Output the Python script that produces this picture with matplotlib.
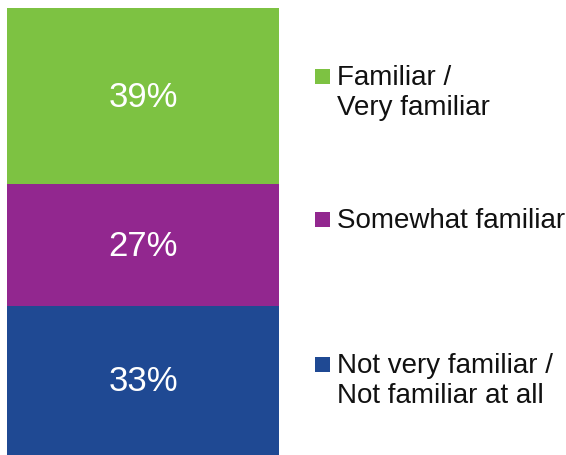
import matplotlib
matplotlib.use("Agg")
from matplotlib import pyplot as plt
from matplotlib.patches import Rectangle

plt.rcParams['font.family'] = ['Liberation Sans', 'DejaVu Sans']

# stacked from the bottom up
labels = ['Not very familiar /\nNot familiar at all', 'Somewhat familiar', 'Familiar /\nVery familiar']
values = [33, 27, 39]
colors = ['#1F4993', '#92278F', '#7DC242']

W, H = 566, 456
fig = plt.figure(figsize=(W / 100, H / 100), dpi=100)
ax = fig.add_axes([7 / W, 0, 272 / W, 447 / H])

bottom = 0
for v, c in zip(values, colors):
    ax.bar(0, v, width=1.0, bottom=bottom, color=c, edgecolor='none')
    ax.text(0, bottom + v / 2, str(v) + '%', ha='center', va='center',
            color='white', fontsize=25)
    bottom += v
ax.set_xlim(-0.5, 0.5)
ax.set_ylim(0, sum(values))
ax.axis('off')

# legend, top entry first; square sits on the first line's baseline
baselines = [85, 228, 373]
line_h = 30
for lab, c, base in zip(labels[::-1], colors[::-1], baselines):
    fig.patches.append(Rectangle((315 / W, (H - base) / H), 15 / W, 15 / H,
                                 transform=fig.transFigure, facecolor=c,
                                 edgecolor='none'))
    last = base + line_h * lab.count('\n')
    fig.text(337 / W, (H - last) / H, lab, ha='left', va='baseline',
             fontsize=20, color='#111111')

fig.savefig('out.png', dpi=100)
